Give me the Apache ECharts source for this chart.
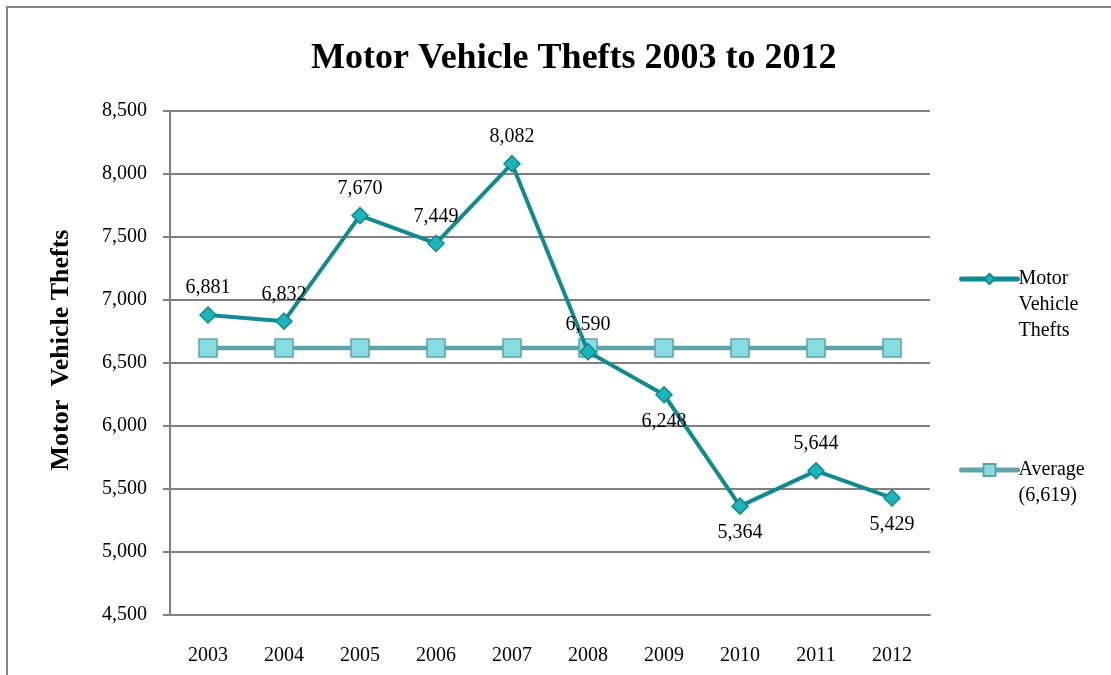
<!DOCTYPE html>
<html>
<head>
<meta charset="utf-8">
<script src="https://cdn.jsdelivr.net/npm/echarts@6/dist/echarts.min.js"></script>
<style>
  html,body{margin:0;padding:0;background:#fff;}
  #chart{width:1111px;height:675px;}
</style>
</head>
<body>
<div id="chart"></div>
<script>
const years = ['2003','2004','2005','2006','2007','2008','2009','2010','2011','2012'];
const thefts = [6881, 6832, 7670, 7449, 8082, 6590, 6248, 5364, 5644, 5429];
const average = [6619, 6619, 6619, 6619, 6619, 6619, 6619, 6619, 6619, 6619];
const labelSide = ['top','top','top','top','top','top','bottom','bottom','top','bottom'];

const FONT = '"Liberation Serif", "DejaVu Serif", serif';
const fmt = v => v.toLocaleString('en-US');

const c = echarts.init(document.getElementById('chart'));
c.setOption({
  animation: false,
  textStyle: { fontFamily: FONT, color: '#000' },
  title: {
    text: 'Motor Vehicle Thefts 2003 to 2012',
    left: 306, top: 36,
    textStyle: { fontFamily: FONT, fontSize: 36, fontWeight: 'bold', color: '#000' }
  },
  graphic: [{
    type: 'rect', z: -10,
    shape: { x: 7, y: 7, width: 1130, height: 700 },
    style: { fill: 'none', stroke: '#868686', lineWidth: 2 }
  }],
  legend: [{
    data: [{ name: 'Motor Vehicle Thefts', lineStyle: { width: 5, cap: 'round' } }],
    left: 959, top: 214, orient: 'vertical', padding: 0,
    itemWidth: 56, itemHeight: 13, itemGap: 0,
    formatter: () => ' \n \nMotor\nVehicle\nThefts',
    textStyle: { fontFamily: FONT, fontSize: 20, lineHeight: 26, color: '#000', padding: [0,0,0,-4] }
  }, {
    data: [{ name: 'Average (6,619)', lineStyle: { width: 5, cap: 'round' } }],
    left: 959, top: 431, orient: 'vertical', padding: 0,
    itemWidth: 56, itemHeight: 15,
    formatter: () => ' \nAverage\n(6,619)',
    textStyle: { fontFamily: FONT, fontSize: 20, lineHeight: 26, color: '#000', padding: [0,0,0,-4] }
  }],
  grid: { left: 170, right: 181, top: 111, bottom: 60 },
  xAxis: {
    type: 'category', data: years, boundaryGap: true,
    axisLine: { lineStyle: { color: '#808080', width: 2 } },
    axisTick: { show: false },
    axisLabel: { margin: 31, fontFamily: FONT, fontSize: 20, color: '#000' }
  },
  yAxis: {
    type: 'value', min: 4500, max: 8500, interval: 500,
    name: 'Motor  Vehicle Thefts', nameLocation: 'middle', nameRotate: 90, nameGap: 96,
    nameTextStyle: { fontFamily: FONT, fontSize: 26, fontWeight: 'bold', color: '#000', padding: [0,0,0,26] },
    axisLine: { show: true, lineStyle: { color: '#808080', width: 2 } },
    axisTick: { show: true, length: 7, lineStyle: { color: '#808080', width: 2 } },
    splitLine: { lineStyle: { color: '#808080', width: 2 } },
    axisLabel: { margin: 23, fontFamily: FONT, fontSize: 20, color: '#000', formatter: v => fmt(v) }
  },
  series: [{
    name: 'Motor Vehicle Thefts', type: 'line', z: 3,
    data: thefts.map((v, i) => ({ value: v, label: { position: labelSide[i] } })),
    symbol: 'diamond', symbolSize: 16,
    lineStyle: { color: '#128a8f', width: 4 },
    itemStyle: { color: '#1bb6ba', borderColor: '#128a8f', borderWidth: 1.5 },
    label: { show: true, distance: 8, fontFamily: FONT, fontSize: 20, color: '#000', formatter: p => fmt(p.value) }
  }, {
    name: 'Average (6,619)', type: 'line', z: 2,
    data: average,
    symbol: 'rect', symbolSize: 18,
    lineStyle: { color: '#5ea3a6', width: 4.5 },
    itemStyle: { color: '#86dde1', borderColor: '#5ea3a6', borderWidth: 1.5 }
  }]
});
</script>
</body>
</html>
